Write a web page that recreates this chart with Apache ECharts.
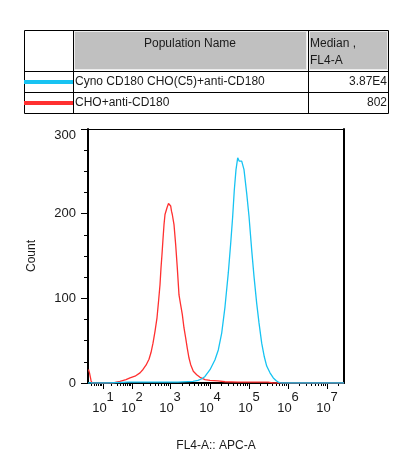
<!DOCTYPE html>
<html>
<head>
<meta charset="utf-8">
<script src="https://cdn.jsdelivr.net/npm/echarts@6/dist/echarts.min.js"></script>
<style>
	html, body { margin: 0; padding: 0; background: #fff; }
	#mychart { width: 414px; height: 471px; }
</style>
</head>
<body>
<div id="mychart"></div>
<script>
// x in display channels (0..256), y in counts
var xMajorTicks = [15, 44, 82, 122, 161, 200, 239];
var xMajorExps = ['1', '2', '3', '4', '5', '6', '7'];

var redX = [0.5, 1.5, 3, 4, 25, 27, 32, 38, 42, 47, 52, 55, 58, 61, 63, 65, 67, 69, 70.5, 72, 73, 74, 75, 76, 77, 79, 80.5, 81.3, 82.7, 83.5, 84.3, 86, 87.7, 89.3, 91, 92.7, 94.3, 96, 97.7, 99.3, 101, 102.7, 105.3, 108.7, 112, 117, 122, 130, 137, 150, 180, 185, 256];
var redY = [16, 12, 3, 0, 0, 1, 2, 4, 6, 8, 12, 16, 21, 28, 36, 47, 61, 77, 96, 116, 136, 152, 170, 187, 199, 207, 212, 211, 209, 203, 199, 187, 163, 136, 104, 92, 81, 65, 53, 41, 29.5, 21.6, 13.8, 9.8, 6.7, 3.9, 3, 2.5, 1.5, 1, 1, 0, 0];

var blueX = [0, 20, 40, 90, 105, 110, 114, 117, 122, 127, 130.3, 133.7, 137, 140.3, 142.7, 144.7, 146.3, 148, 149.7, 150.5, 151.3, 152.5, 153.7, 156, 158.7, 161, 163.7, 166, 168.7, 171, 173.7, 176.3, 178.7, 182, 185.3, 188, 190.3, 193, 256];
var blueY = [0, 0, 1, 1, 2, 3, 5, 7.8, 15.7, 27.5, 39, 59, 90, 130, 165, 197, 228, 252, 266, 268, 262, 263, 262, 252, 224, 197, 157, 126, 94, 71, 47, 31, 20, 12, 6, 3, 1, 0, 0];

var popNames = ['Cyno CD180 CHO(C5)+anti-CD180', 'CHO+anti-CD180'];
var popMedians = ['3.87E4', '802'];
var colors = ['#17c3f2', '#ff3030'];

function pairs(xs, ys) {
	var out = [];
	for(var i = 0; i < xs.length; i++) {
		out.push([xs[i], ys[i]]);
	}
	return out;
}

// log spaced minor ticks between the decade marks
function minorTicks() {
	var t = [];
	var spans = [];
	for(var i = 0; i < xMajorTicks.length - 1; i++) {
		spans.push([xMajorTicks[i], xMajorTicks[i + 1] - xMajorTicks[i]]);
	}
	spans.unshift([xMajorTicks[0] - 29, 29]);
	spans.push([xMajorTicks[xMajorTicks.length - 1], 39]);
	for(var j = 0; j < spans.length; j++) {
		for(var k = 2; k <= 9; k++) {
			var v = spans[j][0] + spans[j][1] * Math.log10(k);
			if(v > 0 && v < 256) t.push(v);
		}
	}
	return t;
}

var font = '12px "Liberation Sans", Arial, sans-serif';
var txt = '#1a1a1a';

function tableGraphic() {
	var g = [];
	// header cells
	g.push({ type: 'rect', shape: { x: 74.5, y: 31.5, width: 232, height: 38 }, style: { fill: '#c0c0c0', stroke: '#ececec', lineWidth: 1 } });
	g.push({ type: 'rect', shape: { x: 309.5, y: 31.5, width: 78, height: 38 }, style: { fill: '#c0c0c0', stroke: '#ececec', lineWidth: 1 } });
	// grid lines
	g.push({ type: 'rect', shape: { x: 24.5, y: 30.5, width: 364, height: 83 }, style: { fill: 'none', stroke: '#000', lineWidth: 1 } });
	g.push({ type: 'line', shape: { x1: 73.5, y1: 30, x2: 73.5, y2: 114 }, style: { stroke: '#000', lineWidth: 1 } });
	g.push({ type: 'line', shape: { x1: 308.5, y1: 30, x2: 308.5, y2: 114 }, style: { stroke: '#000', lineWidth: 1 } });
	g.push({ type: 'line', shape: { x1: 24, y1: 71.5, x2: 389, y2: 71.5 }, style: { stroke: '#000', lineWidth: 1 } });
	g.push({ type: 'line', shape: { x1: 24, y1: 92.5, x2: 389, y2: 92.5 }, style: { stroke: '#000', lineWidth: 1 } });
	// header text
	g.push({ type: 'text', style: { text: 'Population Name', x: 190, y: 44, font: font, fill: txt, textAlign: 'center', textVerticalAlign: 'middle' } });
	g.push({ type: 'text', style: { text: 'Median ,', x: 310, y: 44, font: font, fill: txt, textAlign: 'left', textVerticalAlign: 'middle' } });
	g.push({ type: 'text', style: { text: 'FL4-A', x: 310, y: 61, font: font, fill: txt, textAlign: 'left', textVerticalAlign: 'middle' } });
	var rowY = [82, 103];
	for(var i = 0; i < popNames.length; i++) {
		g.push({ type: 'rect', shape: { x: 24, y: rowY[i] - 2, width: 49, height: 4 }, style: { fill: colors[i] } });
		g.push({ type: 'text', style: { text: popNames[i], x: 75, y: rowY[i], font: font, fill: txt, textAlign: 'left', textVerticalAlign: 'middle' } });
		g.push({ type: 'text', style: { text: popMedians[i], x: 387, y: rowY[i], font: font, fill: txt, textAlign: 'right', textVerticalAlign: 'middle' } });
	}
	return g;
}

var myChart = echarts.init(document.getElementById('mychart'), null, { renderer: 'canvas' });

var option = {
	animation: false,
	backgroundColor: '#fff',
	textStyle: { fontFamily: '"Liberation Sans", Arial, sans-serif' },
	graphic: tableGraphic(),
	grid: {
		left: 88,
		right: 70,
		top: 129,
		bottom: 88
	},
	xAxis: [{
			type: 'value',
			position: 'bottom',
			min: 0,
			max: 256,
			name: 'FL4-A:: APC-A',
			nameLocation: 'middle',
			nameGap: 57,
			nameTextStyle: { fontSize: 12, color: txt },
			axisLine: { onZero: false, lineStyle: { color: '#000', width: 2 } },
			axisTick: { customValues: xMajorTicks, length: 6, lineStyle: { color: '#000', width: 1 } },
			axisLabel: {
				customValues: xMajorTicks,
				margin: 8,
				formatter: function(v) {
					var i = xMajorTicks.indexOf(v);
					return '{b|10}{s|' + xMajorExps[i] + '}';
				},
				rich: {
					b: { fontSize: 13, color: txt, lineHeight: 24, verticalAlign: 'bottom' },
					s: { fontSize: 13, color: txt, lineHeight: 24, verticalAlign: 'top' }
				}
			},
			splitLine: { show: false }
		},
		{
			type: 'value',
			position: 'bottom',
			min: 0,
			max: 256,
			axisLine: { show: false, onZero: false },
			axisTick: { customValues: minorTicks(), length: 3, lineStyle: { color: '#000', width: 1 } },
			axisLabel: { show: false },
			splitLine: { show: false }
		},
		{
			type: 'value',
			position: 'top',
			min: 0,
			max: 256,
			axisLine: { onZero: false, lineStyle: { color: '#000', width: 1 } },
			axisTick: { show: false },
			axisLabel: { show: false },
			splitLine: { show: false }
		}
	],
	yAxis: [{
			type: 'value',
			position: 'left',
			min: 0,
			max: 300,
			interval: 100,
			name: 'Count',
			nameLocation: 'middle',
			nameGap: 50,
			nameRotate: 90,
			nameTextStyle: { fontSize: 12, color: txt },
			axisLine: { show: true, onZero: false, lineStyle: { color: '#000', width: 2 } },
			axisTick: { show: true, length: 7, lineStyle: { color: '#000', width: 1 } },
			minorTick: { show: true, splitNumber: 4, length: 4, lineStyle: { color: '#000', width: 1 } },
			axisLabel: { fontSize: 13, color: txt, margin: 12, verticalAlignMaxLabel: 'top' },
			splitLine: { show: false }
		},
		{
			type: 'value',
			position: 'right',
			min: 0,
			max: 300,
			axisLine: { show: true, onZero: false, lineStyle: { color: '#000', width: 2 } },
			axisTick: { show: false },
			axisLabel: { show: false },
			splitLine: { show: false }
		}
	],
	series: [{
			name: popNames[1],
			type: 'line',
			data: pairs(redX, redY),
			showSymbol: false,
			symbol: 'none',
			lineStyle: { color: colors[1], width: 1.3 },
			z: 3
		},
		{
			name: popNames[0],
			type: 'line',
			data: pairs(blueX, blueY),
			showSymbol: false,
			symbol: 'none',
			lineStyle: { color: colors[0], width: 1.3 },
			z: 4
		}
	]
};
myChart.setOption(option);
</script>
</body>
</html>
